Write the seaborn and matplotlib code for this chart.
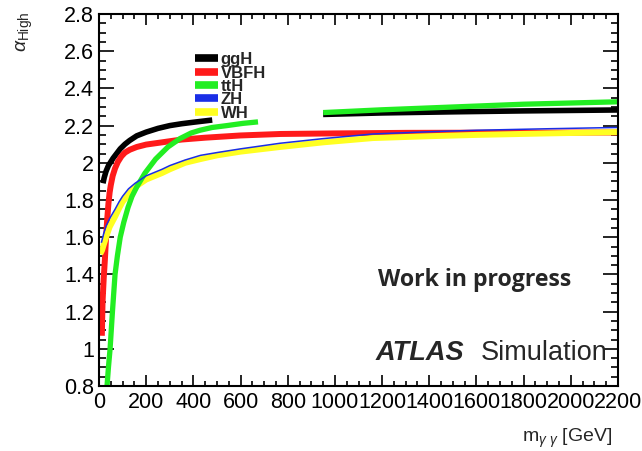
import numpy as np
import pandas as pd
import matplotlib
matplotlib.use('Agg')
import matplotlib.pyplot as plt
from matplotlib.lines import Line2D
from matplotlib.ticker import MultipleLocator, FuncFormatter
import seaborn as sns

# values (m_yy in GeV, alpha_High)
ggH_m = [17, 22, 30, 40, 50, 60, 75, 90, 110, 130, 160, 200, 250, 300, 350, 400, 440, 480]
ggH_a = [1.89, 1.92, 1.955, 1.985, 2.005, 2.025, 2.05, 2.075, 2.10, 2.12, 2.145, 2.165, 2.185,
         2.20, 2.21, 2.218, 2.224, 2.23]
ggH_m2 = [950, 1200, 1500, 1800, 2200]
ggH_a2 = [2.260, 2.268, 2.274, 2.279, 2.284]

VBFH_m = [12, 15, 20, 25, 30, 35, 40, 45, 50, 58, 68, 80, 95, 110, 130, 160, 200, 267, 350, 450,
          600, 770, 1000, 1300, 1700, 2200]
VBFH_a = [1.07, 1.25, 1.38, 1.48, 1.60, 1.70, 1.78, 1.84, 1.88, 1.93, 1.97, 2.005, 2.035, 2.055,
          2.07, 2.085, 2.098, 2.11, 2.125, 2.135, 2.147, 2.155, 2.158, 2.161, 2.162, 2.163]

ttH_m = [34, 40, 47, 57, 68, 78, 90, 105, 123, 140, 160, 195, 240, 292, 343, 390, 428, 480, 542,
         610, 674]
ttH_a = [0.80, 0.90, 1.00, 1.20, 1.40, 1.50, 1.60, 1.68, 1.76, 1.82, 1.87, 1.945, 2.02, 2.085,
         2.13, 2.16, 2.175, 2.19, 2.20, 2.212, 2.22]
ttH_m2 = [950, 1200, 1500, 1800, 2200]
ttH_a2 = [2.270, 2.285, 2.300, 2.315, 2.328]

ZH_m = [10, 20, 30, 45, 68, 85, 100, 125, 153, 200, 267, 300, 365, 430, 500, 600, 767, 950, 1161,
        1400, 1600, 1900, 2200]
ZH_a = [1.57, 1.62, 1.66, 1.70, 1.75, 1.79, 1.82, 1.86, 1.89, 1.93, 1.965, 1.985, 2.015, 2.04,
        2.055, 2.075, 2.105, 2.13, 2.155, 2.167, 2.175, 2.183, 2.19]

WH_m = [5, 13, 20, 30, 45, 68, 85, 100, 125, 153, 200, 267, 300, 365, 430, 500, 600, 767, 950,
        1161, 1400, 1600, 1900, 2200]
WH_a = [1.51, 1.53, 1.56, 1.60, 1.655, 1.71, 1.755, 1.79, 1.83, 1.87, 1.91, 1.945, 1.965, 2.00,
        2.02, 2.04, 2.06, 2.085, 2.11, 2.133, 2.143, 2.15, 2.158, 2.165]

LEGEND_ORDER = ['ggH', 'VBFH', 'ttH', 'ZH', 'WH']
DRAW_ORDER = ['ggH', 'VBFH', 'WH', 'ttH', 'ZH']
COLORS = {'ggH': '#000000', 'VBFH': '#ff1a1a', 'ttH': '#22ee22', 'ZH': '#1a2ee6', 'WH': '#ffff22'}
WIDTHS = {'ggH': 4.0, 'VBFH': 4.3, 'ttH': 3.8, 'ZH': 1.1, 'WH': 4.3}


def segs(proc, *parts):
    rows = []
    for i in range(0, len(parts), 2):
        for m, a in zip(parts[i], parts[i + 1]):
            rows.append((proc, i // 2, m, a))
    return rows


rows = []
rows += segs('ggH', ggH_m, ggH_a, ggH_m2, ggH_a2)
rows += segs('VBFH', VBFH_m, VBFH_a)
rows += segs('ttH', ttH_m, ttH_a, ttH_m2, ttH_a2)
rows += segs('ZH', ZH_m, ZH_a)
rows += segs('WH', WH_m, WH_a)
data = pd.DataFrame(rows, columns=['process', 'seg', 'm', 'alpha'])

sns.set_style('ticks')
plt.rcParams['font.family'] = ['Liberation Sans', 'DejaVu Sans']
plt.rcParams['mathtext.fontset'] = 'custom'
plt.rcParams['mathtext.rm'] = 'Liberation Sans'
plt.rcParams['mathtext.it'] = 'Liberation Sans:italic'

fig = plt.figure(figsize=(6.42, 4.51), dpi=100)
ax = fig.add_axes([99 / 642, 1 - 386 / 451, (618 - 99) / 642, (386 - 14) / 451])

for proc in DRAW_ORDER:
    sub = data[data.process == proc]
    sns.lineplot(data=sub, x='m', y='alpha', units='seg', estimator=None, sort=False,
                 color=COLORS[proc], lw=WIDTHS[proc], legend=False, ax=ax,
                 solid_capstyle='butt', solid_joinstyle='round')

ax.set_xlim(0, 2200)
ax.set_ylim(0.8, 2.8)
ax.set_xlabel('')
ax.set_ylabel('')
ax.xaxis.set_major_locator(MultipleLocator(200))
ax.xaxis.set_minor_locator(MultipleLocator(50))
ax.yaxis.set_major_locator(MultipleLocator(0.2))
ax.yaxis.set_minor_locator(MultipleLocator(0.05))
ax.xaxis.set_major_formatter(FuncFormatter(lambda v, p: f'{v:g}'))
ax.yaxis.set_major_formatter(FuncFormatter(lambda v, p: f'{round(v, 2):g}'))
ax.tick_params(which='both', direction='in', top=True, right=True, width=1.2,
               labelsize=15.5, colors='black')
ax.tick_params(axis='x', which='major', length=8, pad=4)
ax.tick_params(axis='x', which='minor', length=3.3)
ax.tick_params(axis='y', which='major', length=11, pad=3.5)
ax.tick_params(axis='y', which='minor', length=4.7)
for sp in ax.spines.values():
    sp.set_linewidth(1.5)
    sp.set_color('black')

handles = [Line2D([], [], color=COLORS[p], lw=5.5, solid_capstyle='butt') for p in LEGEND_ORDER]
ax.legend(handles, LEGEND_ORDER, loc='upper left', bbox_to_anchor=(0.185, 0.897),
          frameon=False, handlelength=1.35, handletextpad=0.2, labelspacing=-0.1,
          borderaxespad=0, borderpad=0, prop={'weight': 'bold', 'size': 12})

fig.text(25 / 642, 1 - 12 / 451, r'$\alpha_{\mathrm{High}}$', rotation=90, ha='center', va='top',
         fontsize=14)
fig.text(612 / 642, 1 - 438 / 451, r'm$_{\gamma\ \gamma}$ [GeV]', ha='right', va='center',
         fontsize=14)

fig.text(475 / 642, 1 - 280 / 451, 'Work in progress', ha='center', va='center',
         fontsize=16.7, fontweight='bold', family=['Open Sans', 'DejaVu Sans'])
fig.text(376 / 642, 1 - 360 / 451, 'ATLAS', ha='left', va='baseline',
         fontsize=19.5, fontweight='bold', fontstyle='italic')
fig.text(481 / 642, 1 - 360 / 451, 'Simulation', ha='left', va='baseline', fontsize=19.5)

fig.savefig('out.png', dpi=100)
